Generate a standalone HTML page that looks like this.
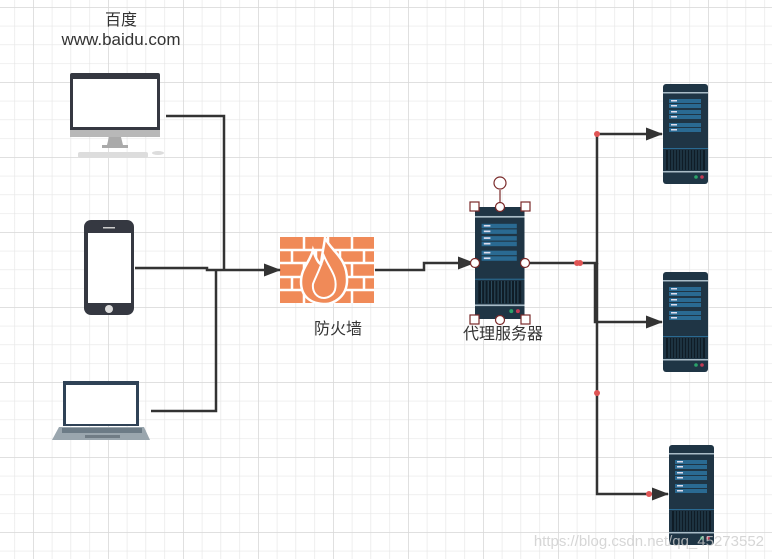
<!DOCTYPE html>
<html><head><meta charset="utf-8"><style>
html,body{margin:0;padding:0;background:#fff}
svg{display:block}
text{font-family:"Liberation Sans","Noto Sans CJK SC",sans-serif;fill:#333}
</style></head><body>
<svg width="772" height="559" viewBox="0 0 772 559" xmlns="http://www.w3.org/2000/svg">
<defs>
<pattern id="minor" x="14.25" y="7" width="18.75" height="18.75" patternUnits="userSpaceOnUse">
<path d="M0 0H18.75M0 0V18.75" stroke="#e6e6e6" stroke-width="1.3" fill="none"/>
</pattern>
<pattern id="major" x="33" y="7" width="75" height="75" patternUnits="userSpaceOnUse">
<path d="M0 0H75M0 0V75" stroke="#d8d8d8" stroke-width="1.5" fill="none"/>
</pattern>
<marker id="ar" markerWidth="17" markerHeight="13" refX="16" refY="6.5" orient="auto" markerUnits="userSpaceOnUse">
<path d="M0 0L17 6.5L0 13Z" fill="#333"/>
</marker>
<g id="srv">
<rect x="0" y="0" width="45" height="100" rx="3" fill="#1f3545"/>
<rect x="0" y="8" width="45" height="1.5" fill="#a9bcc7"/>
<rect x="6" y="15" width="32" height="4" fill="#2a6a92"/><rect x="6" y="20" width="32" height="4" fill="#2a6a92"/>
<rect x="6" y="26" width="32" height="4" fill="#2a6a92"/><rect x="6" y="31" width="32" height="4" fill="#2a6a92"/>
<rect x="6" y="39" width="32" height="4" fill="#2a6a92"/><rect x="6" y="44" width="32" height="4" fill="#2a6a92"/>
<rect x="8" y="16" width="6" height="1.5" fill="#dde"/><rect x="8" y="21" width="6" height="1.5" fill="#dde"/>
<rect x="8" y="27" width="6" height="1.5" fill="#dde"/><rect x="8" y="32" width="6" height="1.5" fill="#dde"/>
<rect x="8" y="40" width="6" height="1.5" fill="#dde"/><rect x="8" y="45" width="6" height="1.5" fill="#dde"/>
<rect x="0" y="64" width="45" height="1" fill="#2a6a92"/>
<rect x="3" y="66" width="39" height="20" fill="#0f1c26"/>
<path d="M6 66V86M9 66V86M12 66V86M15 66V86M18 66V86M21 66V86M24 66V86M27 66V86M30 66V86M33 66V86M36 66V86M39 66V86" stroke="#2b4a5c" stroke-width="1"/>
<rect x="0" y="87" width="45" height="1.5" fill="#a9bcc7"/>
<circle cx="33" cy="93" r="1.8" fill="#2aa36a"/><circle cx="39" cy="93" r="1.8" fill="#c23b55"/>
</g>
</defs>
<rect width="772" height="559" fill="#fff"/>
<rect width="772" height="559" fill="url(#minor)"/>
<rect width="772" height="559" fill="url(#major)"/>

<text x="121" y="25" font-size="16" text-anchor="middle">百度</text>
<text x="121" y="45" font-size="17" text-anchor="middle">www.baidu.com</text>

<!-- desktop -->
<rect x="70" y="73" width="90" height="64" rx="2" fill="#353841"/>
<rect x="73" y="79" width="84" height="48" fill="#fff"/>
<rect x="70" y="130" width="90" height="7" fill="#b8b8b8"/>
<path d="M109 137H121L123 145H128V148H102V145H107Z" fill="#aaa"/>
<rect x="78" y="152" width="70" height="6" rx="2" fill="#ddd"/>
<ellipse cx="158" cy="153" rx="6" ry="2" fill="#ddd"/>

<!-- phone -->
<rect x="84" y="220" width="50" height="95" rx="7" fill="#353841"/>
<rect x="88" y="233" width="43" height="70" fill="#fff"/>
<circle cx="109" cy="309" r="4" fill="#ddd"/>
<rect x="103" y="227" width="12" height="1.5" fill="#ccc"/>

<!-- laptop -->
<rect x="63" y="381" width="76" height="45" fill="#2f4256"/>
<rect x="66" y="385" width="70" height="39" fill="#fff"/>
<path d="M59 427H144L150 440H52Z" fill="#9aa6ae"/>
<rect x="62" y="428" width="80" height="5" fill="#4f5f6b" opacity="0.6"/>
<rect x="85" y="435" width="35" height="3" fill="#707c85"/>

<!-- firewall -->
<rect x="280" y="237" width="94" height="66" fill="#f08a58"/>
<g stroke="#fff" stroke-width="2.5" fill="none">
<path d="M280 250H374M280 263H374M280 277H374M280 290H374"/>
<path d="M304 237V250M328 237V250M352 237V250M292 250V263M316 250V263M340 250V263M364 250V263M304 263V277M328 263V277M352 263V277M292 277V290M316 277V290M340 277V290M364 277V290M304 290V303M328 290V303M352 290V303"/>
</g>
<path d="M325 238C332 252 348 258 347 282C346 298 332 304 326 304C310 304 301 296 301 282C301 268 310 262 313 250C317 262 320 264 321 264C322 254 324 246 325 238Z" fill="#f08a58" stroke="#fff" stroke-width="2.5"/>
<path d="M324 256C330 270 338 276 335 290C333 296 327 298 324 298C317 298 312 292 313 284C315 278 320 270 324 256Z" fill="none" stroke="#fff" stroke-width="2"/>
<text x="338" y="334" font-size="16" text-anchor="middle">防火墙</text>

<!-- proxy server -->
<use href="#srv" transform="translate(475,207) scale(1.1,1.12)"/>
<g stroke="#7a2a2a" stroke-width="1.2" fill="#fff">
<line x1="500" y1="190" x2="500" y2="207"/>
<circle cx="500" cy="183" r="6"/>
<rect x="470" y="202" width="9" height="9"/><rect x="521" y="202" width="9" height="9"/>
<rect x="470" y="315" width="9" height="9"/><rect x="521" y="315" width="9" height="9"/>
<circle cx="500" cy="207" r="4.5"/><circle cx="500" cy="320" r="4.5"/>
</g>
<text x="503" y="339" font-size="16" text-anchor="middle">代理服务器</text>

<!-- servers -->
<use href="#srv" transform="translate(663,84)"/>
<use href="#srv" transform="translate(663,272)"/>
<use href="#srv" transform="translate(669,445)"/>

<!-- connectors -->
<g stroke="#333" stroke-width="2.5" fill="none">
<path d="M166 116H224V270"/>
<path d="M135 268H207V270H280" marker-end="url(#ar)"/>
<path d="M151 411H216V270"/>
<path d="M375 270H424V263H474" marker-end="url(#ar)"/>
<path d="M526 263H597V134H662" marker-end="url(#ar)"/>
<path d="M595 263V322H662" marker-end="url(#ar)"/>
<path d="M597 263V494H668" marker-end="url(#ar)"/>
</g>
<g stroke="#7a2a2a" stroke-width="1.2" fill="#fff">
<circle cx="475" cy="263" r="4.5"/><circle cx="525" cy="263" r="4.5"/>
</g>
<g fill="#e05555">
<circle cx="597" cy="134" r="3"/><circle cx="577" cy="263" r="3"/><circle cx="580" cy="263" r="3"/>
<circle cx="597" cy="393" r="3"/><circle cx="649" cy="494" r="3"/>
</g>
<text x="764" y="546" font-size="15" text-anchor="end" style="fill:#ccc;fill-opacity:0.8">https://blog.csdn.net/qq_45273552</text>
</svg>
</body></html>
